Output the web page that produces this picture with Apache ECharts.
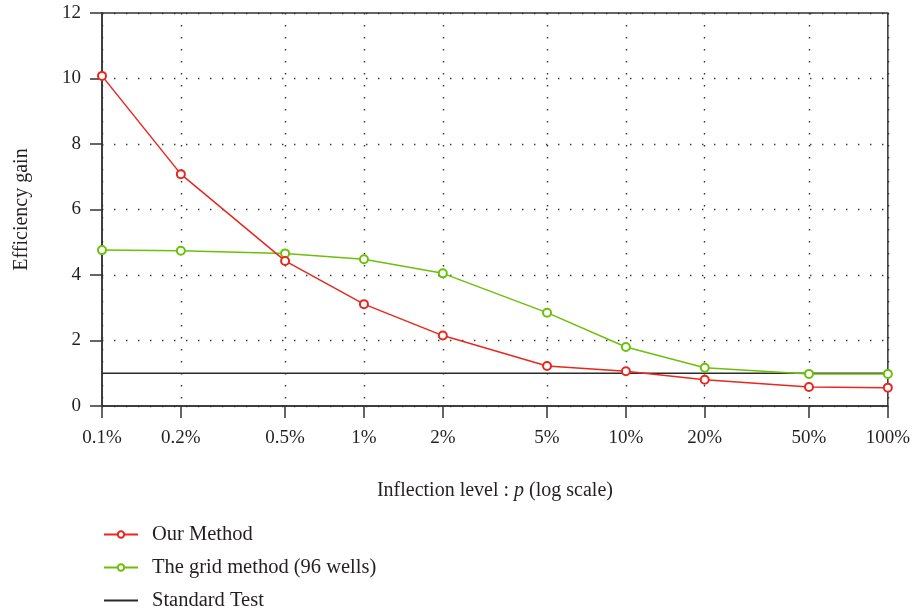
<!DOCTYPE html>
<html>
<head>
<meta charset="utf-8">
<script src="https://cdn.jsdelivr.net/npm/echarts@6/dist/echarts.min.js"></script>
<style>
  html, body { margin: 0; padding: 0; background: #ffffff; }
  #chart { width: 913px; height: 612px; }
</style>
</head>
<body>
<div id="chart"></div>
<script>
  // inflection level p, in percent
  const levels = [0.1, 0.2, 0.5, 1, 2, 5, 10, 20, 50, 100];
  const ourMethod = [10.08, 7.08, 4.43, 3.11, 2.15, 1.22, 1.06, 0.8, 0.58, 0.56];
  const gridMethod = [4.76, 4.74, 4.66, 4.48, 4.05, 2.85, 1.8, 1.17, 0.98, 0.98];
  const standardLevels = [0.1, 100];
  const standardGain = [1, 1];
  const yTicks = [0, 2, 4, 6, 8, 10, 12];

  const font = 'Liberation Serif';
  const ink = '#231f20';

  const pairs = (xs, ys) => xs.map((x, i) => [x, ys[i]]);

  const myChart = echarts.init(document.getElementById('chart'));
  myChart.setOption({
    animation: false,
    textStyle: { fontFamily: font, color: ink },
    grid: {
      left: 102,
      right: 24,
      top: 13,
      bottom: 206,
      show: true,
      borderColor: '#333',
      borderWidth: 1.5,
    },
    legend: {
      orient: 'vertical',
      left: 103,
      top: 524,
      padding: 0,
      itemWidth: 34,
      itemHeight: 8,
      itemGap: 12,
      textStyle: { fontFamily: font, fontSize: 20.5, color: ink, padding: [0, 0, 0, 9] },
      data: [
        'Our Method',
        'The grid method (96 wells)',
        { name: 'Standard Test', itemStyle: { opacity: 0 } },
      ],
    },
    xAxis: {
      type: 'log',
      logBase: 10,
      min: 0.1,
      max: 100,
      name: 'Inflection level : {i|p} (log scale)',
      nameLocation: 'middle',
      nameGap: 75,
      nameTextStyle: {
        fontFamily: font,
        fontSize: 20,
        color: ink,
        rich: { i: { fontFamily: font, fontSize: 20, fontStyle: 'italic', color: ink } },
      },
      axisLine: { lineStyle: { color: '#333', width: 1.5 } },
      axisTick: { customValues: levels, length: 12, lineStyle: { color: '#333', width: 1.5 } },
      axisLabel: {
        customValues: levels,
        margin: 23,
        fontFamily: font,
        fontSize: 19,
        color: ink,
        formatter: (v) => +Number(v).toPrecision(3) + '%',
      },
      splitLine: {
        show: true,
        lineStyle: { color: '#333', width: 1.4, type: [1.4, 10.6] },
      },
    },
    yAxis: {
      type: 'value',
      min: 0,
      max: 12,
      interval: 2,
      name: 'Efficiency gain',
      nameLocation: 'middle',
      nameGap: 70,
      nameTextStyle: { fontFamily: font, fontSize: 20, color: ink },
      axisLine: { show: true, lineStyle: { color: '#333', width: 1.5 } },
      axisTick: { show: true, length: 12, lineStyle: { color: '#333', width: 1.5 } },
      axisLabel: {
        customValues: yTicks,
        margin: 21,
        fontFamily: font,
        fontSize: 19,
        color: ink,
      },
      splitLine: {
        show: true,
        lineStyle: { color: '#333', width: 1.4, type: [1.4, 10.6] },
      },
    },
    series: [
      {
        name: 'Our Method',
        type: 'line',
        data: pairs(levels, ourMethod),
        color: '#e8281e',
        lineStyle: { width: 1.5 },
        symbol: 'emptyCircle',
        symbolSize: 8,
        itemStyle: { borderWidth: 1.3 },
        z: 4,
      },
      {
        name: 'The grid method (96 wells)',
        type: 'line',
        data: pairs(levels, gridMethod),
        color: '#6cc00a',
        lineStyle: { width: 1.5 },
        symbol: 'emptyCircle',
        symbolSize: 8,
        itemStyle: { borderWidth: 1.3 },
        z: 3,
      },
      {
        name: 'Standard Test',
        type: 'line',
        data: pairs(standardLevels, standardGain),
        color: '#2b2b2b',
        lineStyle: { width: 1.5 },
        symbol: 'none',
        z: 2,
      },
    ],
  });
</script>
</body>
</html>
